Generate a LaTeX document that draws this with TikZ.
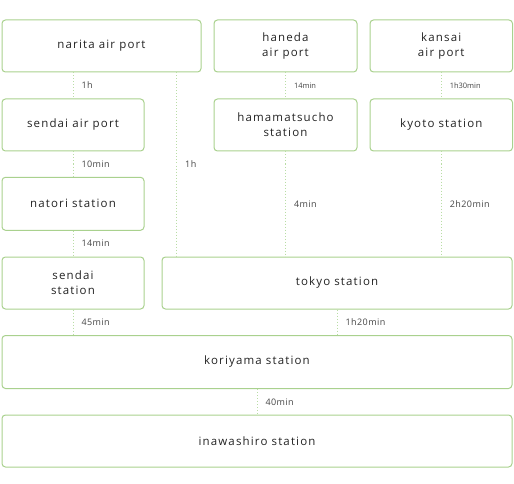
\documentclass[tikz,border=0pt]{standalone}
\usepackage{fontspec}
\setmainfont{Open Sans}
\definecolor{boxgreen}{HTML}{A9D18E}
\definecolor{dotgreen}{HTML}{B9DDA5}
\definecolor{txt}{HTML}{222222}
\definecolor{labtxt}{HTML}{444444}
\tikzset{
  box/.style={draw=boxgreen, line width=1pt, rounded corners=3.5pt, minimum height=52pt,
    align=center, inner sep=0pt, text=txt, font=\fontsize{11.5}{15}\selectfont\addfontfeatures{LetterSpace=10}},
  conn/.style={draw=dotgreen, line width=1pt, dash pattern=on 1pt off 2pt},
  lab/.style={right, inner sep=0pt, xshift=8pt, text=labtxt, font=\fontsize{9}{10}\selectfont\addfontfeatures{LetterSpace=5}},
  labs/.style={right, inner sep=0pt, xshift=8pt, text=labtxt, font=\fontsize{7.5}{9}\selectfont\addfontfeatures{LetterSpace=0}}
}
\begin{document}
\begin{tikzpicture}[x=1pt,y=-1pt]
\useasboundingbox (0,0) rectangle (514,484);
\node[box, minimum width=199pt] (narita) at (101.5,46) {narita air port};
\node[box, minimum width=143pt] (haneda) at (285.5,46) {haneda\\air port};
\node[box, minimum width=142.5pt] (kansai) at (441.25,46) {kansai\\air port};
\node[box, minimum width=142pt] (sendaiair) at (73,125) {sendai air port};
\node[box, minimum width=143pt] (hama) at (285.5,125) {hamamatsucho\\station};
\node[box, minimum width=142.5pt] (kyoto) at (441.25,125) {kyoto station};
\node[box, minimum width=142pt, minimum height=53pt] (natori) at (73,203.8) {natori station};
\node[box, minimum width=142pt] (sendaist) at (73,283) {sendai\\station};
\node[box, minimum width=350pt] (tokyo) at (337,283) {tokyo station};
\node[box, minimum width=510pt, minimum height=53pt] (koriyama) at (257,362) {koriyama station};
\node[box, minimum width=510pt] (inawa) at (257,441) {inawashiro station};
\coordinate (nx) at (176.7,0);
\draw[conn] (narita.south -| sendaiair.north) -- node[lab] {1h} (sendaiair.north);
\draw[conn] (sendaiair.south) -- node[lab] {10min} (natori.north);
\draw[conn] (natori.south) -- node[lab] {14min} (sendaist.north);
\draw[conn] (sendaist.south) -- node[lab] {45min} (koriyama.north -| sendaist.south);
\draw[conn] (narita.south -| nx) -- node[lab] {1h} (tokyo.north -| nx);
\draw[conn] (haneda.south) -- node[labs] {14min} (hama.north);
\draw[conn] (hama.south) -- node[lab] {4min} (tokyo.north -| hama.south);
\draw[conn] (kansai.south) -- node[labs] {1h30min} (kyoto.north);
\draw[conn] (kyoto.south) -- node[lab] {2h20min} (tokyo.north -| kyoto.south);
\draw[conn] (tokyo.south) -- node[lab] {1h20min} (koriyama.north -| tokyo.south);
\draw[conn] (koriyama.south) -- node[lab] {40min} (inawa.north -| koriyama.south);
\end{tikzpicture}
\end{document}
